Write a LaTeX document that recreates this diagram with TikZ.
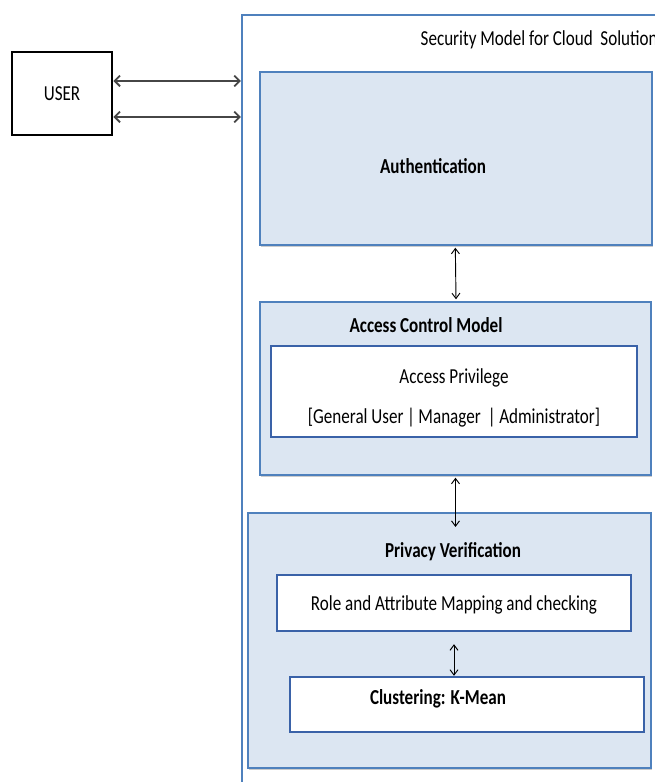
\documentclass[tikz,border=0pt]{standalone}
\usepackage{fontspec}
\setmainfont{Carlito}[FakeStretch=0.8]
\usepackage{tikz}
\usetikzlibrary{arrows.meta,shadows}
\usepackage{xcolor}
\definecolor{smblue}{RGB}{79,129,189}
\definecolor{smdark}{RGB}{58,98,168}
\definecolor{smfill}{RGB}{220,230,242}
\definecolor{smgray}{RGB}{70,70,70}
\tikzstyle{layer} = [rectangle, draw=smblue, line width=1.1pt, fill=smfill, drop shadow={shadow xshift=0.8pt, shadow yshift=-1.5pt, fill=black!40}]
\tikzstyle{inner} = [rectangle, draw=smdark, line width=1.8pt, fill=white]
\tikzstyle{link} = [{Straight Barb[length=4pt,width=6pt]}-{Straight Barb[length=4pt,width=6pt]}, line width=0.7pt]
\tikzstyle{userlink} = [{Straight Barb[length=4pt,width=8pt]}-{Straight Barb[length=4pt,width=8pt]}, line width=1.4pt, color=smgray]

\begin{document}
\begin{tikzpicture}[x=0.75pt, y=-0.75pt, font=\fontsize{16}{19}\selectfont]
\useasboundingbox (0,0) rectangle (654,782);
% User at left
\node (user) [rectangle, draw=black, line width=2pt, minimum width=75pt, minimum height=62.25pt] at (62,93.5) {USER};

% Outer frame of the model
\node (model) [rectangle, draw=smblue, line width=1.6pt, minimum width=343.5pt, minimum height=588.75pt] at (471,407.5) {};
\node (title) [anchor=west] at (416,40) {Security Model for Cloud\ \ Solution};

% Layers
\node (auth) [layer, minimum width=294pt, minimum height=129.75pt] at (456,158.5) {};
\node (authtxt) at (433,166) {\textbf{Authentication}};

\node (access) [layer, minimum width=293.25pt, minimum height=129.75pt] at (455.5,388.5) {};
\node (accesstxt) at (426,325) {\textbf{Access Control Model}};
\node (privilege) [inner, minimum width=274.5pt, minimum height=68.25pt] at (454,391.5) {};
\node (privilegetxt) [align=center] at (454,398) {Access Privilege\\[11.5pt][General User\,|\,Manager\,\,|\,Administrator]};

\node (privacy) [layer, minimum width=302.25pt, minimum height=191.25pt] at (449.5,640.5) {};
\node (privacytxt) at (453,552) {\textbf{Privacy Verification}};
\node (mapping) [inner, minimum width=265.5pt, minimum height=42pt] at (454,603) {};
\node (mappingtxt) at (454,605) {Role and Attribute Mapping and checking};
\node (cluster) [inner, minimum width=265.5pt, minimum height=41.25pt] at (467,704.5) {};
\node (clustertxt) at (438,699) {\textbf{Clustering: K-Mean}};

% Connections
\draw[userlink] ([yshift=9.4pt]user.east) -- ([yshift=9.4pt]user.east -| model.west);
\draw[userlink] ([yshift=-17.6pt]user.east) -- ([yshift=-17.6pt]user.east -| model.west);
\draw[link] ([xshift=-0.5pt,yshift=-1.5pt]auth.south) -- ([yshift=1.5pt]auth.south |- access.north);
\draw[link] ([yshift=-1.5pt]access.south) -- ([yshift=-11pt]access.south |- privacy.north);
\draw[link] ([yshift=-9pt]mapping.south) -- (mapping.south |- cluster.north);
\end{tikzpicture}
\end{document}
